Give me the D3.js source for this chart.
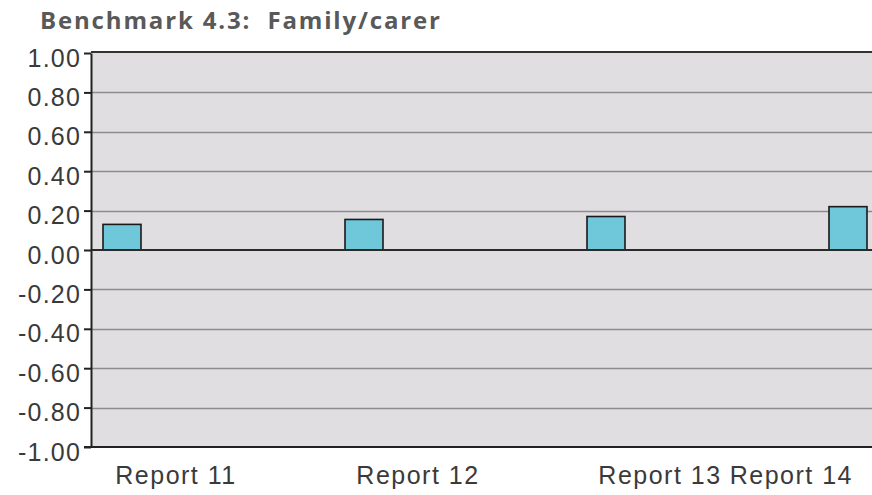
<!DOCTYPE html>
<html>
<head>
<meta charset="utf-8">
<script src="https://cdn.jsdelivr.net/npm/d3@7"></script>
<style>
  body { margin: 0; background: #fff; }
  svg { display: block; }
</style>
</head>
<body>
<div id="chart"></div>
<script>
const reports = ['Report 11', 'Report 12', 'Report 13', 'Report 14'];
const values = [0.13, 0.155, 0.17, 0.22];
const yTicks = [1, 0.8, 0.6, 0.4, 0.2, 0, -0.2, -0.4, -0.6, -0.8, -1];
const title = 'Benchmark 4.3:  Family/carer';

const W = 872, H = 495;
const margin = { top: 53, left: 91, bottom: 48 };
const bandW = 242;

const svg = d3.select('#chart').append('svg')
  .attr('width', W)
  .attr('height', H);

const x = d3.scaleBand()
  .domain(reports)
  .range([margin.left, margin.left + bandW * reports.length])
  .padding(0);

const y = d3.scaleLinear()
  .domain([-1, 1])
  .range([H - margin.bottom, margin.top]);

// plot background
svg.append('rect')
  .attr('x', margin.left)
  .attr('y', y(1) - 1)
  .attr('width', W - margin.left)
  .attr('height', y(-1) - y(1) + 1)
  .attr('fill', '#e0dee0');

// grid lines
svg.append('g')
  .selectAll('line')
  .data(yTicks.filter(d => d !== 1 && d !== -1 && d !== 0))
  .enter().append('line')
  .attr('x1', margin.left)
  .attr('x2', W)
  .attr('y1', d => Math.round(y(d)) + 0.5)
  .attr('y2', d => Math.round(y(d)) + 0.5)
  .attr('stroke', '#8c8c8c')
  .attr('stroke-width', 1.3);

// top border
svg.append('line')
  .attr('x1', margin.left).attr('x2', W)
  .attr('y1', y(1) - 1).attr('y2', y(1) - 1)
  .attr('stroke', '#333')
  .attr('stroke-width', 2);

// bars
svg.append('g')
  .selectAll('rect')
  .data(values)
  .enter().append('rect')
  .attr('x', (d, i) => x(reports[i]) + 12)
  .attr('y', d => y(d))
  .attr('width', 38)
  .attr('height', d => y(0) - y(d))
  .attr('fill', '#6fc8d9')
  .attr('stroke', '#1a1a1a')
  .attr('stroke-width', 1.6);

// zero line
svg.append('line')
  .attr('x1', margin.left).attr('x2', W)
  .attr('y1', y(0)).attr('y2', y(0))
  .attr('stroke', '#2a2a2a')
  .attr('stroke-width', 2);

// y axis
const yAxis = svg.append('g')
  .attr('transform', `translate(${margin.left},0)`)
  .call(d3.axisLeft(y).tickValues(yTicks).tickFormat(d3.format('.2f')).tickSize(7).tickSizeOuter(0).tickPadding(3));
yAxis.select('.domain').attr('stroke', '#222').attr('stroke-width', 2);
yAxis.selectAll('.tick line').attr('stroke', '#222').attr('stroke-width', 2);
yAxis.selectAll('.tick text')
  .attr('fill', '#3a3a3a')
  .style('font-family', '"Liberation Sans", Arial, sans-serif')
  .style('font-size', '25px')
  .style('letter-spacing', '1.2px')
  .attr('dy', '0.52em')
  .text(d => d3.format('.2f')(d).replace('−', '-'));

// x axis line
svg.append('line')
  .attr('x1', margin.left - 7).attr('x2', W)
  .attr('y1', y(-1)).attr('y2', y(-1))
  .attr('stroke', '#222')
  .attr('stroke-width', 2);

// x labels
const xLabels = svg.append('g')
  .selectAll('text')
  .data(reports)
  .enter().append('text')
  .attr('y', y(-1) + 37)
  .attr('text-anchor', 'middle')
  .attr('fill', '#3a3a3a')
  .style('font-family', '"Liberation Sans", Arial, sans-serif')
  .style('font-size', '25px')
  .style('letter-spacing', '1.5px')
  .text(d => d);
xLabels.attr('x', function(d) {
  const w = this.getComputedTextLength();
  return Math.min(x(d) + 85, W - 19 - w / 2);
});

// title
svg.append('text')
  .attr('x', 40)
  .attr('y', 29)
  .attr('fill', '#595959')
  .attr('textLength', 400)
  .attr('lengthAdjust', 'spacing')
  .style('white-space', 'pre')
  .style('font-family', '"Open Sans", sans-serif')
  .style('font-weight', 'bold')
  .style('font-size', '24px')
  .text(title);
</script>
</body>
</html>
